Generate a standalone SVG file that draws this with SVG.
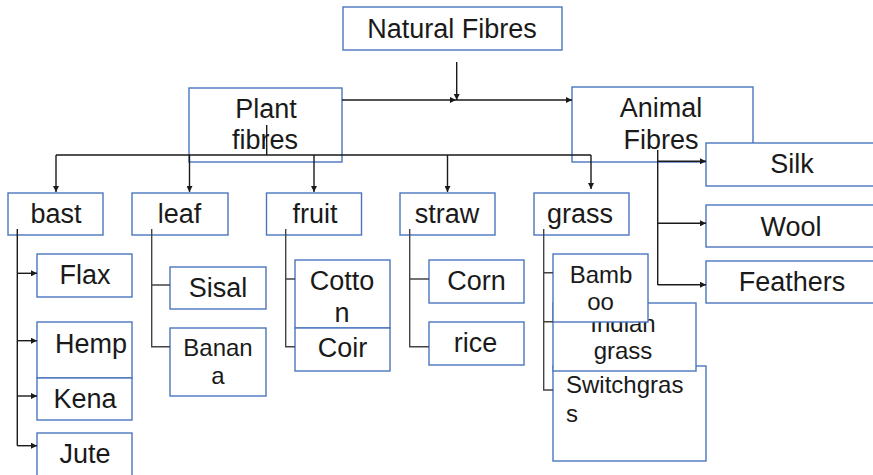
<svg xmlns="http://www.w3.org/2000/svg" width="873" height="475" viewBox="0 0 873 475">
<style>
.b{fill:#fff;stroke:#4a76be;stroke-width:1.4}
.t{font-family:"Liberation Sans",Arial,sans-serif;font-size:27px;fill:#1a1a1a;text-anchor:middle}
.s{font-size:24px}
.l{text-anchor:start}
.c{fill:none;stroke:#1a1a1a;stroke-width:1.4}
.g{fill:none;stroke:#444;stroke-width:1.4}
</style>
<defs>
<marker id="a" viewBox="0 0 8 8" refX="8" refY="4" markerWidth="6" markerHeight="6" markerUnits="userSpaceOnUse" orient="auto"><path d="M0,0L8,4L0,8z" fill="#1a1a1a"/></marker>
</defs>
<rect width="873" height="475" fill="#fff"/>
<g id="natural"><rect class="b" x="343" y="7" width="219" height="43"/><text class="t" x="452" y="38">Natural Fibres</text></g>
<g id="plant"><rect class="b" x="189" y="88" width="153" height="74"/><text class="t" x="266" y="118">Plant</text><text class="t" x="265" y="149">fibres</text></g>
<g id="animal"><rect class="b" x="572" y="87" width="181" height="75"/><text class="t" x="661" y="117">Animal</text><text class="t" x="661" y="149">Fibres</text></g>
<g id="silk"><rect class="b" x="706" y="143" width="172" height="43"/><text class="t" x="792" y="173">Silk</text></g>
<g id="wool"><rect class="b" x="706" y="205" width="172" height="42"/><text class="t" x="791" y="236">Wool</text></g>
<g id="feathers"><rect class="b" x="706" y="261" width="172" height="42"/><text class="t" x="792" y="291">Feathers</text></g>
<g id="bast"><rect class="b" x="8" y="193" width="95" height="42"/><text class="t" x="56" y="223">bast</text></g>
<g id="leaf"><rect class="b" x="132" y="193" width="96" height="42"/><text class="t" x="179.5" y="223">leaf</text></g>
<g id="fruit"><rect class="b" x="266.5" y="193" width="95" height="42"/><text class="t" x="315" y="223">fruit</text></g>
<g id="straw"><rect class="b" x="400" y="193" width="95" height="42"/><text class="t" x="447" y="223">straw</text></g>
<g id="grass"><rect class="b" x="534" y="193" width="95" height="42"/><text class="t" x="580" y="223">grass</text></g>
<g id="flax"><rect class="b" x="37" y="254" width="95" height="43"/><text class="t" x="85" y="284">Flax</text></g>
<g id="hemp"><rect class="b" x="37" y="322" width="95" height="56"/><text class="t" x="91" y="353">Hemp</text></g>
<g id="kena"><rect class="b" x="37" y="378" width="95" height="42"/><text class="t" x="85" y="408">Kena</text></g>
<g id="jute"><rect class="b" x="37" y="433" width="95" height="50"/><text class="t" x="85" y="463">Jute</text></g>
<g id="sisal"><rect class="b" x="170" y="267" width="96" height="42"/><text class="t" x="218" y="297">Sisal</text></g>
<g id="banana"><rect class="b" x="170" y="328" width="96" height="68"/><text class="t s" x="218" y="356">Banan</text><text class="t s" x="218" y="384">a</text></g>
<g id="cotton"><rect class="b" x="295" y="260" width="95" height="68"/><text class="t" x="342" y="290">Cotto</text><text class="t" x="342" y="322">n</text></g>
<g id="coir"><rect class="b" x="295" y="328" width="95" height="43"/><text class="t" x="342.5" y="357">Coir</text></g>
<g id="corn"><rect class="b" x="429" y="260" width="95" height="43"/><text class="t" x="476.5" y="290">Corn</text></g>
<g id="rice"><rect class="b" x="429" y="322" width="95" height="43"/><text class="t" x="475.5" y="352">rice</text></g>
<g id="switchgrass"><rect class="b" x="553" y="366" width="153" height="95"/><text class="t s l" x="566" y="393">Switchgras</text><text class="t s l" x="566" y="422">s</text></g>
<g id="indiangrass"><rect class="b" x="553" y="303" width="143" height="68"/><text class="t s" x="623" y="332">Indian</text><text class="t s" x="623" y="359">grass</text></g>
<g id="bamboo"><rect class="b" x="553" y="254" width="95" height="68"/><text class="t s" x="601" y="283">Bamb</text><text class="t s" x="600.5" y="310">oo</text></g>
<g id="connectors">
<path class="c" d="M456.7,62V100" marker-end="url(#a)"/>
<path class="c" d="M342,100H456" marker-end="url(#a)"/>
<path class="c" d="M456,100H572" marker-end="url(#a)"/>
<path class="c" d="M266.7,125V155M56,155H591"/>
<path class="c" d="M56,155V192" marker-end="url(#a)"/>
<path class="c" d="M189.5,155V192" marker-end="url(#a)"/>
<path class="c" d="M314,155V192" marker-end="url(#a)"/>
<path class="c" d="M447.5,155V192" marker-end="url(#a)"/>
<path class="c" d="M591,155V189" marker-end="url(#a)"/>
<path class="c" d="M657.7,150V285"/>
<path class="c" d="M657.7,161.3H706" marker-end="url(#a)"/>
<path class="c" d="M657.7,223.3H706" marker-end="url(#a)"/>
<path class="c" d="M657.7,284.7H706" marker-end="url(#a)"/>
<path class="c" d="M17.3,229V445.7"/>
<path class="c" d="M17.3,273.3H37" marker-end="url(#a)"/>
<path class="c" d="M17.3,340.7H37" marker-end="url(#a)"/>
<path class="c" d="M17.3,396H37" marker-end="url(#a)"/>
<path class="c" d="M17.3,445.7H37" marker-end="url(#a)"/>
<path class="g" d="M151.7,229V346.7H170M151.7,285H170"/>
<path class="g" d="M285.7,229V346.7H295M285.7,279H295"/>
<path class="g" d="M409.7,229V346.7H429M409.7,279H429"/>
<path class="g" d="M543.7,229V390H553M543.7,272.7H553M543.7,321.7H553"/>
</g>
</svg>
